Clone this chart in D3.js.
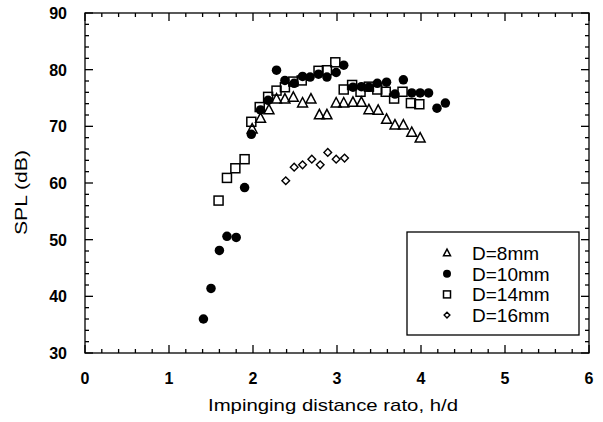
<!DOCTYPE html>
<meta charset="utf-8">
<style>
body { margin: 0; background: #fff; }
text { font-family: "Liberation Sans", Arial, Helvetica, sans-serif; fill: #000; }
.tick-label { font-size: 16px; font-weight: bold; }
.title { font-size: 17px; }
.legend text { font-size: 19px; }
</style>
<body>
<div id="chart"></div>
<script src="https://cdn.jsdelivr.net/npm/d3@7/dist/d3.min.js"></script>
<script>
// SPL vs impinging distance ratio, four nozzle diameters

var d8x  = [1.99, 2.09, 2.19, 2.28, 2.38, 2.48, 2.59, 2.69, 2.79, 2.88, 2.99, 3.08, 3.19, 3.29, 3.38, 3.49, 3.59, 3.69, 3.79, 3.89, 3.99];
var d8y  = [69.5, 71.4, 72.9, 74.8, 74.8, 75.1, 74.1, 74.8, 72.0, 72.0, 74.1, 74.1, 74.2, 74.2, 72.9, 72.8, 71.2, 70.2, 70.2, 68.9, 67.9];

var d10x = [1.41, 1.50, 1.60, 1.69, 1.80, 1.90, 1.98, 2.09, 2.18, 2.28, 2.38, 2.49, 2.59, 2.68, 2.78, 2.88, 2.99, 3.08, 3.19, 3.29, 3.38, 3.48, 3.59, 3.69, 3.79, 3.89, 3.99, 4.09, 4.19, 4.29];
var d10y = [36.0, 41.4, 48.1, 50.6, 50.4, 59.2, 68.6, 72.9, 74.6, 79.9, 78.1, 77.6, 78.8, 78.7, 79.2, 78.7, 79.5, 80.8, 76.9, 77.0, 76.9, 77.6, 77.8, 75.7, 78.2, 75.9, 75.9, 75.9, 73.2, 74.1];

var d14x = [1.59, 1.69, 1.79, 1.90, 1.98, 2.08, 2.18, 2.28, 2.38, 2.48, 2.58, 2.78, 2.88, 2.98, 3.08, 3.18, 3.28, 3.38, 3.48, 3.58, 3.68, 3.78, 3.88, 3.98];
var d14y = [56.9, 60.9, 62.6, 64.2, 70.8, 73.4, 75.2, 76.3, 76.9, 77.9, 78.1, 79.8, 79.9, 81.3, 76.5, 77.3, 76.1, 77.0, 76.5, 76.1, 74.9, 76.1, 74.1, 73.9];

var d16x = [2.39, 2.49, 2.59, 2.70, 2.80, 2.89, 2.99, 3.09];
var d16y = [60.4, 62.8, 63.2, 64.2, 63.2, 65.4, 64.2, 64.4];

var seriesNames = ["D=8mm", "D=10mm", "D=14mm", "D=16mm"];
var xTicks = [0, 1, 2, 3, 4, 5, 6];
var yTicks = [30, 40, 50, 60, 70, 80, 90];

var width = 603, height = 422;
var margin = {top: 13, right: 14, bottom: 69, left: 85};

var svg = d3.select("#chart").append("svg")
    .attr("width", width)
    .attr("height", height);

var x = d3.scaleLinear().domain([0, 6]).range([margin.left, width - margin.right]);
var y = d3.scaleLinear().domain([30, 90]).range([height - margin.bottom, margin.top]);

// marker shapes
function marker(sel, kind, s) {
  if (kind === 0) {
    var h = s * 0.9;
    sel.append("path").attr("d", "M0," + (-h * 0.62) + "L" + (h * 0.55) + "," + (h * 0.42) + "L" + (-h * 0.55) + "," + (h * 0.42) + "Z")
      .attr("fill", "none").attr("stroke", "#000").attr("stroke-width", 1.5);
  } else if (kind === 1) {
    sel.append("circle").attr("r", s * 0.5).attr("fill", "#000");
  } else if (kind === 2) {
    sel.append("rect").attr("x", -s / 2).attr("y", -s / 2).attr("width", s).attr("height", s)
      .attr("fill", "none").attr("stroke", "#000").attr("stroke-width", 1.5);
  } else {
    var d = s * 0.48;
    sel.append("path").attr("d", "M0," + (-d) + "L" + d + ",0L0," + d + "L" + (-d) + ",0Z")
      .attr("fill", "none").attr("stroke", "#000").attr("stroke-width", 1.4);
  }
}

var series = [[d8x, d8y], [d10x, d10y], [d14x, d14y], [d16x, d16y]];
var sizes = [10, 9.5, 9, 8];

series.forEach(function (s, k) {
  var pts = s[0].map(function (v, i) { return [v, s[1][i]]; });
  var g = svg.append("g");
  g.selectAll("g.pt").data(pts).enter().append("g")
    .attr("class", "pt")
    .attr("transform", function (d) { return "translate(" + x(d[0]) + "," + y(d[1]) + ")"; })
    .each(function () { marker(d3.select(this), k, sizes[k]); });
});

// axes: ticks inward on all four sides
var x0 = x.range()[0], x1 = x.range()[1], y0 = y.range()[0], y1 = y.range()[1];
var frame = svg.append("g").attr("stroke", "#000").attr("stroke-width", 1.3);
frame.append("rect").attr("x", x0).attr("y", y1).attr("width", x1 - x0).attr("height", y0 - y1).attr("fill", "none");

var xMinor = d3.range(0, 6.001, 0.2);
var yMinor = d3.range(30, 90.001, 2);
xMinor.forEach(function (v) {
  var major = Math.abs(v - Math.round(v)) < 1e-6;
  var len = major ? 8 : 4;
  frame.append("line").attr("x1", x(v)).attr("x2", x(v)).attr("y1", y0).attr("y2", y0 - len);
  frame.append("line").attr("x1", x(v)).attr("x2", x(v)).attr("y1", y1).attr("y2", y1 + len);
});
yMinor.forEach(function (v) {
  var major = v % 10 === 0;
  var len = major ? 8 : 4;
  frame.append("line").attr("x1", x0).attr("x2", x0 + len).attr("y1", y(v)).attr("y2", y(v));
  frame.append("line").attr("x1", x1).attr("x2", x1 - len).attr("y1", y(v)).attr("y2", y(v));
});

svg.append("g").selectAll("text").data(xTicks).enter().append("text")
  .attr("class", "tick-label")
  .attr("x", function (d) { return x(d); })
  .attr("y", y0 + 31)
  .attr("text-anchor", "middle")
  .text(function (d) { return d; });

svg.append("g").selectAll("text").data(yTicks).enter().append("text")
  .attr("class", "tick-label")
  .attr("x", x0 - 18)
  .attr("y", function (d) { return y(d) + 6; })
  .attr("text-anchor", "end")
  .text(function (d) { return d; });

svg.append("text").attr("class", "title")
  .attr("x", 208).attr("y", 411)
  .attr("textLength", 250)
  .attr("lengthAdjust", "spacingAndGlyphs")
  .text("Impinging distance rato, h/d");

svg.append("text").attr("class", "title")
  .attr("transform", "translate(27,235) rotate(-90)")
  .attr("textLength", 85)
  .attr("lengthAdjust", "spacingAndGlyphs")
  .text("SPL (dB)");

// legend
var lg = svg.append("g").attr("class", "legend");
lg.append("rect").attr("x", 407).attr("y", 232).attr("width", 172).attr("height", 103)
  .attr("fill", "#fff").attr("stroke", "#000").attr("stroke-width", 1.3);
seriesNames.forEach(function (name, k) {
  var ry = 253 + k * 20.7;
  var m = lg.append("g").attr("transform", "translate(447," + ry + ")");
  marker(m, k, [7, 8, 7, 6][k]);
  lg.append("text").attr("x", 472).attr("y", ry + 7).text(name);
});
</script>
</body>
